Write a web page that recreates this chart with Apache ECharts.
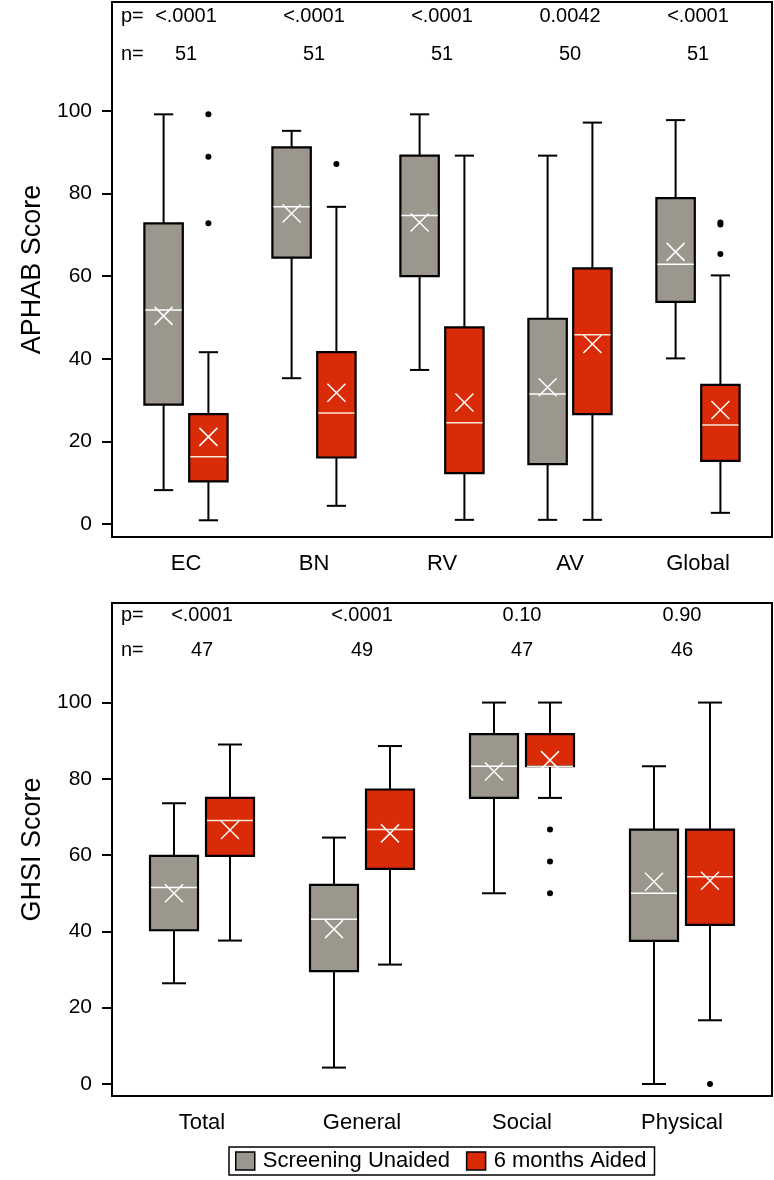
<!DOCTYPE html>
<html>
<head>
<meta charset="utf-8">
<script src="https://cdn.jsdelivr.net/npm/echarts@6/dist/echarts.min.js"></script>
<style>
html,body{margin:0;padding:0;background:#fff;}
#chart{width:774px;height:1180px;}
</style>
</head>
<body>
<div id="chart"></div>
<script>
// ---------- DATA ----------
const aphabCats = ['EC', 'BN', 'RV', 'AV', 'Global'];
const aphabP = ['<.0001', '<.0001', '<.0001', '0.0042', '<.0001'];
const aphabN = ['51', '51', '51', '50', '51'];
// each row: [low whisker, Q1, median, Q3, high whisker, mean]
const aphabUnaided = [
  [8.2, 28.9, 51.8, 72.8, 99.2, 50.4],
  [35.3, 64.5, 76.8, 91.2, 95.2, 75.2],
  [37.3, 60.0, 74.7, 89.2, 99.2, 73.0],
  [1.0, 14.5, 31.5, 49.7, 89.2, 33.1],
  [40.1, 53.8, 62.9, 78.9, 97.8, 65.9]
];
const aphabAided = [
  [0.9, 10.3, 16.3, 26.6, 41.6, 21.1],
  [4.4, 16.1, 26.9, 41.6, 76.8, 31.8],
  [1.0, 12.3, 24.5, 47.6, 89.2, 29.4],
  [1.0, 26.6, 45.8, 61.9, 97.2, 43.6],
  [2.7, 15.3, 24.0, 33.7, 60.2, 27.6]
];
// [category index, value]
const aphabAidedOutliers = [[0, 99.2], [0, 88.9], [0, 72.8], [1, 87.2], [4, 73.0], [4, 72.5], [4, 65.4]];
const aphabUnaidedOutliers = [];

const ghsiCats = ['Total', 'General', 'Social', 'Physical'];
const ghsiP = ['<.0001', '<.0001', '0.10', '0.90'];
const ghsiN = ['47', '49', '47', '46'];
const ghsiUnaided = [
  [26.4, 40.3, 51.5, 59.8, 73.6, 50.0],
  [4.3, 29.6, 43.2, 52.2, 64.6, 40.6],
  [50.0, 75.0, 83.3, 91.7, 100, 81.9],
  [0, 37.5, 50.0, 66.7, 83.3, 53.0]
];
const ghsiAided = [
  [37.6, 59.8, 69.1, 75.0, 89.0, 66.6],
  [31.3, 56.4, 66.7, 77.2, 88.6, 65.7],
  [75.0, 83.3, 83.3, 91.7, 100, 84.9],
  [16.7, 41.7, 54.3, 66.7, 100, 53.3]
];
const ghsiAidedOutliers = [[2, 66.7], [2, 58.3], [2, 50.0], [3, 0]];
const ghsiUnaidedOutliers = [];

const yTicks = [0, 20, 40, 60, 80, 100];
const seriesNames = ['Screening Unaided', '6 months Aided'];

// ---------- STYLE ----------
const FONT = "'Liberation Sans', Arial, Helvetica, sans-serif";
const GREY = '#9b978d';
const RED = '#d92b07';
const BOX_W = 0.30, CAP_W = 0.15, OFF = 0.175;
const P_ROW = 122.8, N_ROW = 113.7;

function withIndex(rows) { return rows.map((r, i) => [i].concat(r)); }

function boxRender(off, medColor) {
  return function (params, api) {
    const x = api.value(0) + off;
    const cx = api.coord([x, 0])[0];
    const hw = api.size([BOX_W, 0])[0] / 2;
    const hc = api.size([CAP_W, 0])[0] / 2;
    const y = v => api.coord([x, v])[1];
    const low = y(api.value(1)), q1 = y(api.value(2)), med = y(api.value(3)),
          q3 = y(api.value(4)), high = y(api.value(5)), mean = y(api.value(6));
    const ls = { stroke: '#000', lineWidth: 2 };
    const m = 9;
    return {
      type: 'group',
      children: [
        { type: 'line', shape: { x1: cx, y1: high, x2: cx, y2: q3 }, style: ls },
        { type: 'line', shape: { x1: cx - hc, y1: high, x2: cx + hc, y2: high }, style: ls },
        { type: 'line', shape: { x1: cx, y1: q1, x2: cx, y2: low }, style: ls },
        { type: 'line', shape: { x1: cx - hc, y1: low, x2: cx + hc, y2: low }, style: ls },
        { type: 'rect', shape: { x: cx - hw, y: q3, width: 2 * hw, height: q1 - q3 },
          style: { fill: api.visual('color'), stroke: '#000', lineWidth: 2.2 } },
        { type: 'line', shape: { x1: cx - hw + 1, y1: med, x2: cx + hw - 1, y2: med },
          style: { stroke: medColor, lineWidth: 1.5 } },
        { type: 'line', shape: { x1: cx - m, y1: mean - m, x2: cx + m, y2: mean + m },
          style: { stroke: '#fff', lineWidth: 1.5 } },
        { type: 'line', shape: { x1: cx - m, y1: mean + m, x2: cx + m, y2: mean - m },
          style: { stroke: '#fff', lineWidth: 1.5 } }
      ]
    };
  };
}

function outlierRender(off) {
  return function (params, api) {
    const p = api.coord([api.value(0) + off, api.value(1)]);
    return { type: 'circle', shape: { cx: p[0], cy: p[1], r: 3 }, style: { fill: '#000' } };
  };
}

function textRender(pVals, nVals) {
  return function (params, api) {
    const i = api.value(0);
    const cx = api.coord([i, 0])[0];
    const yp = api.coord([i, P_ROW])[1];
    const yn = api.coord([i, N_ROW])[1];
    const st = (t, x, yy, align) => ({
      type: 'text', x: x, y: yy,
      style: { text: t, fill: '#000', font: '20px ' + FONT, align: align, verticalAlign: 'middle' }
    });
    const ch = [st(pVals[i], cx, yp, 'center'), st(nVals[i], cx, yn, 'center')];
    if (i === 0) {
      ch.push(st('p=', params.coordSys.x + 9, yp, 'left'));
      ch.push(st('n=', params.coordSys.x + 9, yn, 'left'));
    }
    return { type: 'group', children: ch };
  };
}

function makeAxes(cats, gi, ymin, ymax, name) {
  const pad = 10 / (640 / cats.length);
  const x = {
    type: 'value', gridIndex: gi, min: -0.5 - pad, max: cats.length - 0.5 + pad,
    splitLine: { show: false },
    axisLine: { show: true, onZero: false, lineStyle: { color: '#000', width: 2 } },
    axisTick: { show: false },
    axisLabel: {
      customValues: cats.map((c, i) => i),
      formatter: v => cats[Math.round(v)],
      color: '#000', fontSize: 22, fontFamily: FONT, margin: 16
    }
  };
  const y = {
    type: 'value', gridIndex: gi, min: ymin, max: ymax,
    name: name, nameLocation: 'middle', nameGap: 64, nameRotate: 90,
    nameTextStyle: { color: '#000', fontSize: 27, fontFamily: FONT },
    splitLine: { show: false },
    axisLine: { show: true, onZero: false, lineStyle: { color: '#000', width: 2 } },
    axisTick: { show: true, customValues: yTicks, length: 10, lineStyle: { color: '#000', width: 2 } },
    axisLabel: { customValues: yTicks, color: '#000', fontSize: 21, fontFamily: FONT, margin: 20 }
  };
  return [x, y];
}

const [x0, y0] = makeAxes(aphabCats, 0, -3.15, 126.4, 'APHAB Score');
const [x1, y1] = makeAxes(ghsiCats, 1, -3.15, 126.1, 'GHSI Score');

function seriesFor(gi, unaided, aided, uOut, aOut, pVals, nVals) {
  return [
    { type: 'custom', name: seriesNames[0], xAxisIndex: gi, yAxisIndex: gi,
      itemStyle: { color: GREY }, renderItem: boxRender(-OFF, '#ffffff'),
      data: withIndex(unaided), z: 2 },
    { type: 'custom', name: seriesNames[1], xAxisIndex: gi, yAxisIndex: gi,
      itemStyle: { color: RED }, renderItem: boxRender(OFF, '#fbe6d4'),
      data: withIndex(aided), z: 2 },
    { type: 'custom', name: seriesNames[0], xAxisIndex: gi, yAxisIndex: gi,
      itemStyle: { color: GREY }, renderItem: outlierRender(-OFF), data: uOut, z: 3 },
    { type: 'custom', name: seriesNames[1], xAxisIndex: gi, yAxisIndex: gi,
      itemStyle: { color: RED }, renderItem: outlierRender(OFF), data: aOut, z: 3 },
    { type: 'custom', xAxisIndex: gi, yAxisIndex: gi, renderItem: textRender(pVals, nVals),
      data: pVals.map((p, i) => [i]), z: 4, silent: true }
  ];
}

const chart = echarts.init(document.getElementById('chart'), null, { renderer: 'canvas' });
chart.setOption({
  animation: false,
  backgroundColor: '#fff',
  grid: [
    { left: 112, top: 2, width: 660, height: 535, show: true, borderColor: '#000', borderWidth: 2, backgroundColor: 'transparent' },
    { left: 112, top: 603, width: 660, height: 493, show: true, borderColor: '#000', borderWidth: 2, backgroundColor: 'transparent' }
  ],
  xAxis: [x0, x1],
  yAxis: [y0, y1],
  legend: {
    data: seriesNames,
    left: 229, top: 1147,
    icon: 'rect', itemWidth: 19, itemHeight: 18, itemGap: 16,
    itemStyle: { borderColor: '#000', borderWidth: 1.5 },
    borderColor: '#000', borderWidth: 1.5, padding: [3, 8, 3, 6],
    textStyle: { color: '#000', fontSize: 22, fontFamily: FONT, padding: [0, 0, 0, 3] },
    selectedMode: false
  },
  series: [].concat(
    seriesFor(0, aphabUnaided, aphabAided, aphabUnaidedOutliers, aphabAidedOutliers, aphabP, aphabN),
    seriesFor(1, ghsiUnaided, ghsiAided, ghsiUnaidedOutliers, ghsiAidedOutliers, ghsiP, ghsiN)
  )
});
</script>
</body>
</html>
